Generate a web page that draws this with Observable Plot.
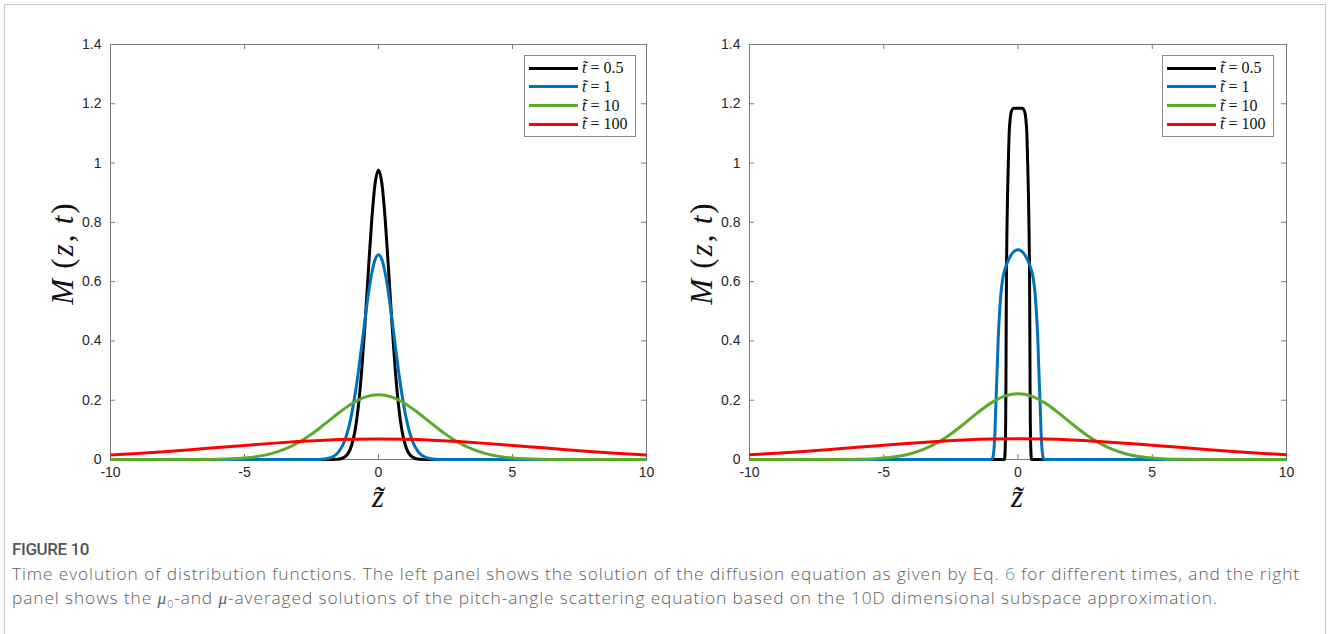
<!DOCTYPE html>
<html>
<head>
<meta charset="utf-8">
<script src="https://cdn.jsdelivr.net/npm/d3@7"></script>
<script src="https://cdn.jsdelivr.net/npm/@observablehq/plot@0.6"></script>
<style>
  html, body { margin: 0; padding: 0; background: #fff; }
  body { width: 1328px; height: 634px; overflow: hidden; position: relative; font-family: "Liberation Sans", Arial, sans-serif; }
  #border { position: absolute; left: 4px; top: 4px; width: 1320px; height: 660px; border: 1px solid #c8c8c8; border-bottom: none; }
  .panel { position: absolute; top: 0; }
  .panel svg text { font-size: 14px; }
  .ylab { position: absolute; font-family: "Liberation Serif", "DejaVu Serif", serif; font-size: 31px; letter-spacing: 2px; line-height: 31px; color: #111; transform: translate(-50%, -50%) rotate(-90deg); white-space: nowrap; }
  .xlab { position: absolute; font-family: "Liberation Serif", "DejaVu Serif", serif; font-style: italic; font-size: 31px; line-height: 22px; color: #111; transform: translate(-50%, -50%); white-space: nowrap; }
  .legend { position: absolute; width: 110px; height: 80px; border: 1px solid #8c8c8c; background: #fff; }
  .legend .sw { position: absolute; left: 4px; width: 49px; height: 3px; }
  .legend .lt { position: absolute; left: 57px; font-family: "Liberation Serif", "DejaVu Serif", serif; font-size: 16px; color: #111; line-height: 16px; white-space: nowrap; }
  #cap { position: absolute; left: 12px; top: 540px; width: 1310px; color: #555; }
  #fig { font-family: "Roboto", "Open Sans", sans-serif; font-weight: 500; font-size: 17px; letter-spacing: -0.4px; line-height: 18px; color: #555; }
  .cl { position: absolute; left: 0; font-family: "Open Sans", "Lato", sans-serif; font-weight: 300; font-size: 17.3px; line-height: 20px; color: #606060; white-space: nowrap; }
  #line1 { top: 24px; }
  #line2 { top: 48px; }
  .cl .mu { font-family: "Liberation Serif", serif; font-style: italic; line-height: 1; }
  .cl .sub { font-size: 0.62em; position: relative; top: 0.35em; line-height: 1; }
  .cl .ref { color: #1b9fb3; }
</style>
</head>
<body>
<div id="border"></div>
<div id="left" class="panel" style="left:0px"></div>
<div id="right" class="panel" style="left:664px"></div>
<div id="cap">
  <div id="fig">FIGURE 10</div>
  <div id="line1" class="cl">Time evolution of distribution functions. The left panel shows the solution of the diffusion equation as given by Eq. <span class="ref">6</span> for different times, and the right</div>
  <div id="line2" class="cl">panel shows the <span class="mu">μ</span><span class="sub">0</span>-and <span class="mu">μ</span>-averaged solutions of the pitch-angle scattering equation based on the 10D dimensional subspace approximation.</div>
</div>
<script>
// ---- tick values ----
const xTicks = [-10, -5, 0, 5, 10];
const yTicks = [0, 0.2, 0.4, 0.6, 0.8, 1, 1.2, 1.4];

// ---- series labels & colours ----
const seriesKeys = ["0.5", "1", "10", "100"];
const seriesColors = ["#000000", "#0072BD", "#5BAA2A", "#FF0000"];

// ---- LEFT panel: diffusion equation ----
const zL_t05 = [-10, -2, -1.5, -1.25, -1, -0.875, -0.75, -0.625, -0.5, -0.375, -0.25, -0.125, 0, 0.125, 0.25, 0.375, 0.5, 0.625, 0.75, 0.875, 1, 1.25, 1.5, 2, 10];
const mL_t05 = [0, 0, 0.001, 0.009, 0.049, 0.098, 0.181, 0.303, 0.461, 0.641, 0.810, 0.932, 0.977, 0.932, 0.810, 0.641, 0.461, 0.303, 0.181, 0.098, 0.049, 0.009, 0.001, 0, 0];

const zL_t1 = [-10, -3, -2.5, -2, -1.75, -1.5, -1.25, -1, -0.875, -0.75, -0.625, -0.5, -0.375, -0.25, -0.125, 0, 0.125, 0.25, 0.375, 0.5, 0.625, 0.75, 0.875, 1, 1.25, 1.5, 1.75, 2, 2.5, 3, 10];
const mL_t1 = [0, 0, 0.0001, 0.002, 0.007, 0.024, 0.066, 0.154, 0.219, 0.297, 0.385, 0.475, 0.560, 0.629, 0.675, 0.691, 0.675, 0.629, 0.560, 0.475, 0.385, 0.297, 0.219, 0.154, 0.066, 0.024, 0.007, 0.002, 0.0001, 0, 0];

const zL_t10 = [-10, -8, -7, -6, -5.5, -5, -4.5, -4, -3.5, -3, -2.5, -2, -1.5, -1, -0.5, 0, 0.5, 1, 1.5, 2, 2.5, 3, 3.5, 4, 4.5, 5, 5.5, 6, 7, 8, 10];
const mL_t10 = [0, 0, 0.0001, 0.001, 0.0023, 0.0051, 0.0105, 0.0198, 0.0348, 0.0566, 0.0856, 0.120, 0.156, 0.188, 0.2105, 0.2185, 0.2105, 0.188, 0.156, 0.120, 0.0856, 0.0566, 0.0348, 0.0198, 0.0105, 0.0051, 0.0023, 0.001, 0.0001, 0, 0];

const zL_t100 = [-10, -9, -8, -7, -6, -5, -4, -3, -2, -1, 0, 1, 2, 3, 4, 5, 6, 7, 8, 9, 10];
const mL_t100 = [0.0154, 0.0205, 0.0265, 0.0331, 0.0403, 0.0475, 0.0544, 0.0604, 0.0651, 0.0681, 0.0691, 0.0681, 0.0651, 0.0604, 0.0544, 0.0475, 0.0403, 0.0331, 0.0265, 0.0205, 0.0154];

// ---- RIGHT panel: pitch-angle scattering, 10D subspace ----
const zR_t05 = [-10, -0.51, -0.49, -0.475, -0.46, -0.45, -0.44, -0.43, -0.41, -0.39, -0.36, -0.33, -0.31, -0.27, -0.22, -0.15, 0, 0.15, 0.22, 0.27, 0.31, 0.33, 0.36, 0.39, 0.41, 0.43, 0.44, 0.45, 0.46, 0.475, 0.49, 0.51, 10];
const mR_t05 = [0, 0, 0.01, 0.04, 0.12, 0.25, 0.45, 0.62, 0.78, 0.89, 1.0, 1.10, 1.13, 1.165, 1.18, 1.185, 1.185, 1.185, 1.18, 1.165, 1.13, 1.10, 1.0, 0.89, 0.78, 0.62, 0.45, 0.25, 0.12, 0.04, 0.01, 0, 0];

const zR_t1 = [-10, -0.98, -0.95, -0.92, -0.89, -0.86, -0.83, -0.8, -0.77, -0.74, -0.7, -0.65, -0.6, -0.55, -0.5, -0.4, -0.3, -0.2, -0.1, 0, 0.1, 0.2, 0.3, 0.4, 0.5, 0.55, 0.6, 0.65, 0.7, 0.74, 0.77, 0.8, 0.83, 0.86, 0.89, 0.92, 0.95, 0.98, 10];
const mR_t1 = [0, 0, 0.004, 0.014, 0.04, 0.09, 0.17, 0.245, 0.32, 0.40, 0.475, 0.545, 0.59, 0.62, 0.638, 0.664, 0.683, 0.697, 0.705, 0.708, 0.705, 0.697, 0.683, 0.664, 0.638, 0.62, 0.59, 0.545, 0.475, 0.40, 0.32, 0.245, 0.17, 0.09, 0.04, 0.014, 0.004, 0, 0];

const zR_t10 = [-10, -8, -7, -6, -5.5, -5, -4.5, -4, -3.5, -3, -2.5, -2, -1.5, -1, -0.5, 0, 0.5, 1, 1.5, 2, 2.5, 3, 3.5, 4, 4.5, 5, 5.5, 6, 7, 8, 10];
const mR_t10 = [0, 0, 0.0001, 0.0008, 0.002, 0.0048, 0.0102, 0.0196, 0.0348, 0.0568, 0.0862, 0.121, 0.158, 0.191, 0.214, 0.222, 0.214, 0.191, 0.158, 0.121, 0.0862, 0.0568, 0.0348, 0.0196, 0.0102, 0.0048, 0.002, 0.0008, 0.0001, 0, 0];

const zR_t100 = [-10, -9, -8, -7, -6, -5, -4, -3, -2, -1, 0, 1, 2, 3, 4, 5, 6, 7, 8, 9, 10];
const mR_t100 = [0.0158, 0.021, 0.027, 0.0337, 0.041, 0.048, 0.055, 0.061, 0.0658, 0.0688, 0.0698, 0.0688, 0.0658, 0.061, 0.055, 0.048, 0.041, 0.0337, 0.027, 0.021, 0.0158];

const leftSeries = [[zL_t05, mL_t05], [zL_t1, mL_t1], [zL_t10, mL_t10], [zL_t100, mL_t100]];
const rightSeries = [[zR_t05, mR_t05], [zR_t1, mR_t1], [zR_t10, mR_t10], [zR_t100, mR_t100]];

const W = 664, H = 520, MT = 44, MB = 61;
const axisColor = "#7a7a7a";

function panel(series, marginLeft, marginRight) {
  const innerW = W - marginLeft - marginRight;
  const innerH = H - MT - MB;
  const tick = 5;
  const lines = series.map(([zs, ms], i) =>
    Plot.line(zs.map((z, j) => ({z, m: ms[j]})), {
      x: "z", y: "m", stroke: seriesColors[i], strokeWidth: 3,
      curve: "monotone-x", strokeLinejoin: "round", strokeLinecap: "butt"
    })
  );
  return Plot.plot({
    width: W, height: H,
    marginLeft, marginRight, marginTop: MT, marginBottom: MB,
    x: {domain: [-10, 10]},
    y: {domain: [0, 1.4]},
    style: {fontFamily: "'Liberation Sans', Arial, sans-serif", fontSize: "14px", color: "#262626", background: "transparent"},
    marks: [
      Plot.ruleX(xTicks, {stroke: axisColor, insetTop: innerH - tick}),
      Plot.ruleX(xTicks, {stroke: axisColor, insetBottom: innerH - tick}),
      Plot.ruleY(yTicks, {stroke: axisColor, insetRight: innerW - tick}),
      Plot.ruleY(yTicks, {stroke: axisColor, insetLeft: innerW - tick}),
      Plot.frame({stroke: axisColor, strokeWidth: 1}),
      Plot.axisX(xTicks, {tickSize: 0, tickPadding: 8, tickFormat: d => String(d), label: null, fill: "#262626"}),
      Plot.axisY(yTicks, {tickSize: 0, tickPadding: 9, tickFormat: d => String(d), label: null, fill: "#262626"}),
      ...lines
    ]
  });
}

document.getElementById("left").appendChild(panel(leftSeries, 110, 18));
document.getElementById("right").appendChild(panel(rightSeries, 85, 42));

// axis titles & legends (HTML overlay)
function addLabels(xFrameLeft, xZero, legendLeft) {
  const yl = document.createElement("div");
  yl.className = "ylab";
  yl.style.left = (xFrameLeft - 48) + "px";
  yl.style.top = "253px";
  yl.innerHTML = "<i>M</i>&#8201;(<i>z</i>,&#8201;<i>t</i>)";
  document.body.appendChild(yl);

  const xl = document.createElement("div");
  xl.className = "xlab";
  xl.style.left = xZero + "px";
  xl.style.top = "497px";
  xl.textContent = "z\u0303";
  document.body.appendChild(xl);

  const lg = document.createElement("div");
  lg.className = "legend";
  lg.style.left = legendLeft + "px";
  lg.style.top = "55px";
  seriesKeys.forEach((k, i) => {
    const cy = 12 + i * 18.8;
    const sw = document.createElement("div");
    sw.className = "sw";
    sw.style.top = (cy - 1.5) + "px";
    sw.style.background = seriesColors[i];
    lg.appendChild(sw);
    const t = document.createElement("div");
    t.className = "lt";
    t.style.top = (cy - 8) + "px";
    t.innerHTML = "<i>t\u0303</i> = " + k;
    lg.appendChild(t);
  });
  document.body.appendChild(lg);
}
addLabels(110, 378, 524);
addLabels(749, 1017, 1162);

// fit caption line 1 to the reference width (12px → 1300px) with letter spacing
const l1 = document.getElementById("line1");
const l2 = document.getElementById("line2");
const w1 = l1.getBoundingClientRect().width;
const n1 = l1.textContent.length;
if (w1 > 0 && n1 > 0) {
  const ls = Math.max(0, (1288 - w1) / n1);
  l1.style.letterSpacing = ls.toFixed(3) + "px";
  l2.style.letterSpacing = ls.toFixed(3) + "px";
}
</script>
</body>
</html>
